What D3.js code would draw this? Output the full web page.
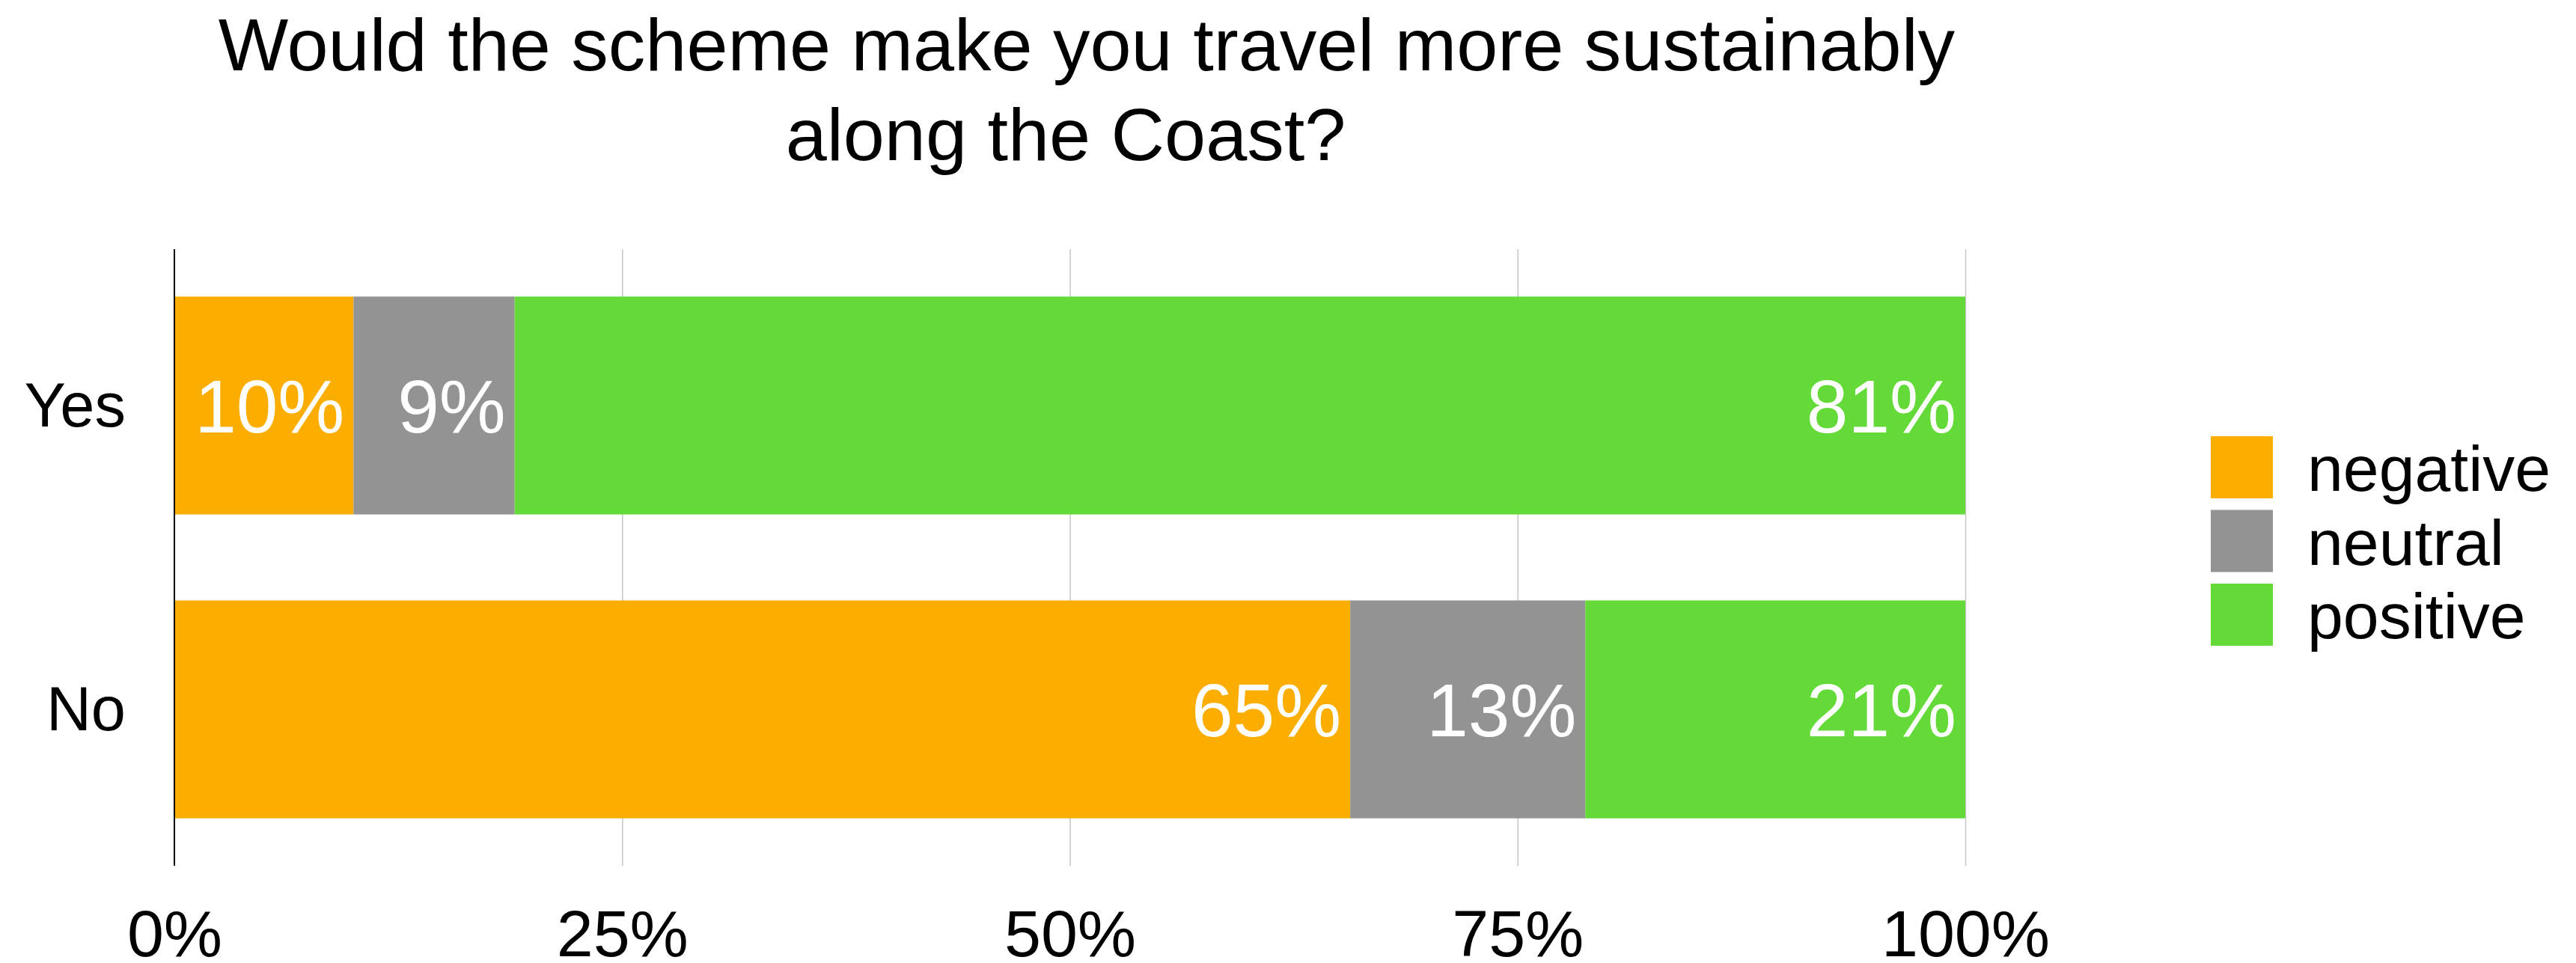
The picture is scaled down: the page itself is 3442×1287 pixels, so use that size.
<!DOCTYPE html>
<html>
<head>
<meta charset="utf-8">
<script src="https://cdn.jsdelivr.net/npm/d3@7"></script>
<style>
  html, body { margin: 0; padding: 0; background: #fff; }
  svg { display: block; }
  text { font-family: "Liberation Sans", Arial, Helvetica, sans-serif; }
</style>
</head>
<body>
<svg id="chart" width="3442" height="1287"></svg>
<script>
// Survey answers (rows) split by sentiment (stack segments), in percent
const categories = ["Yes", "No"];
const seriesNames = ["negative", "neutral", "positive"];
const negative = [10, 65];
const neutral = [9, 13];
const positive = [81, 21];
const tickValues = [0, 25, 50, 75, 100];
const tickLabels = ["0%", "25%", "50%", "75%", "100%"];
const titleLines = ["Would the scheme make you travel more sustainably", "along the Coast?"];
const colors = ["#fcae00", "#939393", "#63da38"];

const svg = d3.select("#chart");
const plot = { left: 233, right: 2626, top: 333, bottom: 1157 };

const rows = categories.map((c, i) => ({
  category: c,
  negative: negative[i],
  neutral: neutral[i],
  positive: positive[i]
}));

// 100% stacked: each row normalised by its own total
const stack = d3.stack().keys(seriesNames).offset(d3.stackOffsetExpand);
const layers = stack(rows);

const x = d3.scaleLinear().domain([0, 1]).range([plot.left, plot.right]);
const xPct = d3.scaleLinear().domain([0, 100]).range([plot.left, plot.right]);
const y = d3.scaleBand().domain(categories).range([plot.top, plot.bottom])
  .paddingInner(0.283).paddingOuter(0.156);
const color = d3.scaleOrdinal().domain(seriesNames).range(colors);

// Title (two lines)
const titleX = [1452, 1424];
svg.append("g").selectAll("text").data(titleLines).join("text")
  .attr("x", (d, i) => titleX[i])
  .attr("y", (d, i) => 94 + i * 120)
  .attr("text-anchor", "middle")
  .attr("font-size", 99)
  .attr("fill", "#000")
  .text(d => d);

// Vertical gridlines
const grid = d3.axisBottom(xPct).tickValues(tickValues.slice(1))
  .tickSize(-(plot.bottom - plot.top)).tickFormat("");
svg.append("g")
  .attr("transform", `translate(0,${plot.bottom})`)
  .call(grid)
  .call(g => g.select(".domain").remove())
  .call(g => g.selectAll(".tick line").attr("stroke", "#c6c6c6").attr("stroke-width", 1.5));

// Bars
svg.append("g").selectAll("g").data(layers).join("g")
  .attr("fill", d => color(d.key))
  .selectAll("rect").data(d => d).join("rect")
  .attr("x", d => x(d[0]))
  .attr("y", d => y(d.data.category))
  .attr("width", d => x(d[1]) - x(d[0]))
  .attr("height", y.bandwidth());

// Value labels inside each segment, right-aligned
svg.append("g").selectAll("g").data(layers).join("g")
  .selectAll("text").data(d => d.map(v => ({ v, key: d.key }))).join("text")
  .attr("x", d => x(d.v[1]) - 12)
  .attr("y", d => y(d.v.data.category) + y.bandwidth() / 2 + 36)
  .attr("text-anchor", "end")
  .attr("font-size", 100)
  .attr("fill", "#fff")
  .text(d => d.v.data[d.key] + "%");

// X axis tick labels
const xAxis = d3.axisBottom(xPct).tickValues(tickValues)
  .tickFormat((d, i) => tickLabels[i]).tickSize(0).tickPadding(0);
svg.append("g")
  .attr("transform", `translate(0,${plot.bottom})`)
  .call(xAxis)
  .call(g => g.select(".domain").remove())
  .call(g => g.selectAll(".tick text")
    .attr("font-family", "Liberation Sans, Arial, sans-serif")
    .attr("font-size", 88)
    .attr("fill", "#000")
    .attr("dy", null)
    .attr("y", 121));

// Y axis: category labels and baseline
const yAxis = d3.axisLeft(y).tickSize(0).tickPadding(65);
svg.append("g")
  .attr("transform", `translate(${plot.left},0)`)
  .call(yAxis)
  .call(g => g.select(".domain").remove())
  .call(g => g.selectAll(".tick text")
    .attr("font-family", "Liberation Sans, Arial, sans-serif")
    .attr("font-size", 83)
    .attr("fill", "#000")
    .attr("dy", "0.34em"));

svg.append("line")
  .attr("x1", plot.left).attr("x2", plot.left)
  .attr("y1", plot.top).attr("y2", plot.bottom)
  .attr("stroke", "#000").attr("stroke-width", 2);

// Legend
const legend = svg.append("g").attr("transform", "translate(2954,583)");
const item = legend.selectAll("g").data(seriesNames).join("g")
  .attr("transform", (d, i) => `translate(0,${i * 98.5})`);
item.append("rect").attr("width", 83).attr("height", 83).attr("fill", d => color(d));
item.append("text")
  .attr("x", 129).attr("y", 73)
  .attr("font-size", 86)
  .attr("fill", "#000")
  .text(d => d);
</script>
</body>
</html>
